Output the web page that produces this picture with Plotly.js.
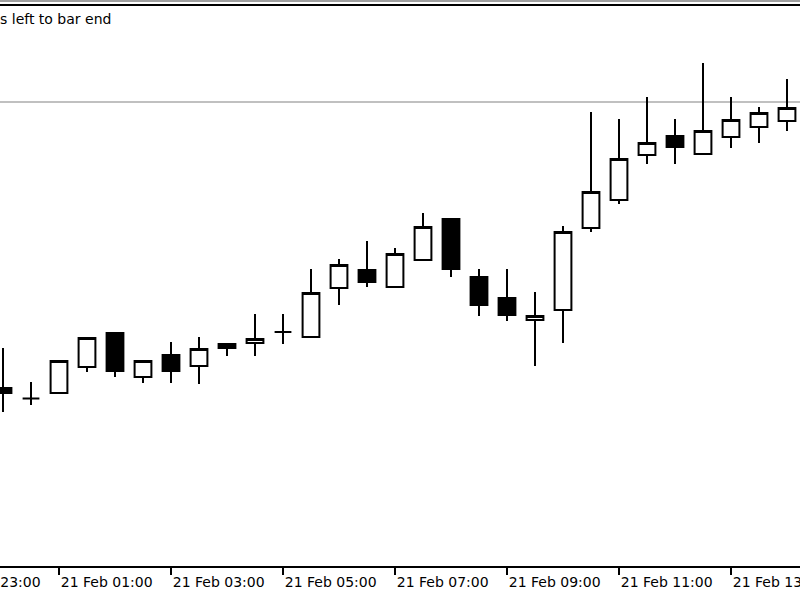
<!DOCTYPE html>
<html>
<head>
<meta charset="utf-8">
<script src="https://cdn.plot.ly/plotly-3.0.1.min.js"></script>
<style>
  html, body { margin: 0; padding: 0; background: #ffffff; overflow: hidden; width: 800px; height: 600px; }
  #chart { position: absolute; left: -109px; top: 0px; width: 1008px; height: 600px; }
</style>
</head>
<body>
<div id="chart"></div>
<script>
// 30-minute bars, 21 Feb 00:00 .. 14:00
const barTimes = [
  '2024-02-21 00:00','2024-02-21 00:30','2024-02-21 01:00','2024-02-21 01:30',
  '2024-02-21 02:00','2024-02-21 02:30','2024-02-21 03:00','2024-02-21 03:30',
  '2024-02-21 04:00','2024-02-21 04:30','2024-02-21 05:00','2024-02-21 05:30',
  '2024-02-21 06:00','2024-02-21 06:30','2024-02-21 07:00','2024-02-21 07:30',
  '2024-02-21 08:00','2024-02-21 08:30','2024-02-21 09:00','2024-02-21 09:30',
  '2024-02-21 10:00','2024-02-21 10:30','2024-02-21 11:00','2024-02-21 11:30',
  '2024-02-21 12:00','2024-02-21 12:30','2024-02-21 13:00','2024-02-21 13:30',
  '2024-02-21 14:00'
];
const openVals  = [178,167.5,173,199,233,189,211,200,222,223,234,229,278,296,279,306,347,289,268,246,256,338,366,411,430,412,429,439,445];
const highVals  = [218,184,205,229,233,206,224,229,222,252,252,297,307,325,318,353,347,297,297,274,340,454,447,469,447,503,469,459,487];
const lowVals   = [154,161,173,194,189,183,183,182,210,210,222,229,261,279,279,306,289,250,245,200,223,334,362,402,402,412,418,423,435];
const closeVals = [173,167.5,205,228,195,205,195,217,218,227,234,273,301,284,312,339,297,261,251,250,334,374,407,423,419,435,446,453,458];

// level line (grey horizontal)
const levelValue = 464;

// time axis ticks
const tickTimes = [
  '2024-02-20 23:00','2024-02-21 01:00','2024-02-21 03:00','2024-02-21 05:00',
  '2024-02-21 07:00','2024-02-21 09:00','2024-02-21 11:00','2024-02-21 13:00',
  '2024-02-21 15:00'
];
const tickLabels = [
  '20 Feb 23:00','21 Feb 01:00','21 Feb 03:00','21 Feb 05:00',
  '21 Feb 07:00','21 Feb 09:00','21 Feb 11:00','21 Feb 13:00',
  '21 Feb 15:00'
];

const statusText = 's left to bar end';

const trace = {
  type: 'candlestick',
  x: barTimes,
  open: openVals,
  high: highVals,
  low: lowVals,
  close: closeVals,
  increasing: { line: { color: '#000000', width: 2 }, fillcolor: '#ffffff' },
  decreasing: { line: { color: '#000000', width: 2 }, fillcolor: '#000000' },
  whiskerwidth: 0,
  hoverinfo: 'none',
  showlegend: false
};

const layout = {
  width: 1008,
  height: 600,
  margin: { l: 0, r: 0, t: 6, b: 34, pad: 0 },
  paper_bgcolor: '#ffffff',
  plot_bgcolor: '#ffffff',
  showlegend: false,
  boxgap: 0.4,
  boxgroupgap: 0,
  hovermode: false,
  xaxis: {
    type: 'date',
    range: ['2024-02-20 22:00', '2024-02-21 16:00'],
    rangeslider: { visible: false },
    showgrid: false,
    zeroline: false,
    showline: true,
    mirror: true,
    linecolor: '#000000',
    linewidth: 2,
    ticks: 'outside',
    ticklen: 7,
    tickwidth: 1.5,
    tickcolor: '#000000',
    tickmode: 'array',
    tickvals: tickTimes,
    ticktext: tickLabels,
    ticklabelposition: 'outside right',
    ticklabelstandoff: 2,
    tickfont: { family: 'DejaVu Sans', size: 14, color: '#000000' },
    fixedrange: true
  },
  yaxis: {
    range: [0, 560],
    visible: false,
    showgrid: false,
    zeroline: false,
    fixedrange: true
  },
  shapes: [
    {
      type: 'line', xref: 'paper', yref: 'y',
      x0: 0, x1: 1, y0: levelValue, y1: levelValue,
      line: { color: '#c0c0c0', width: 2 }, layer: 'below'
    },
    {
      type: 'rect', xref: 'paper', yref: 'paper', ysizemode: 'pixel', yanchor: 1,
      x0: 0, x1: 1, y0: 4, y1: 6,
      fillcolor: '#a0a0a0', line: { width: 0 }
    }
  ],
  annotations: [
    {
      text: statusText,
      xref: 'paper', yref: 'paper',
      x: 0, y: 1, xanchor: 'left', yanchor: 'top',
      xshift: 107, yshift: -3,
      showarrow: false,
      font: { family: 'DejaVu Sans', size: 14, color: '#000000' }
    }
  ]
};

Plotly.newPlot('chart', [trace], layout, { displayModeBar: false, staticPlot: true });
</script>
</body>
</html>
